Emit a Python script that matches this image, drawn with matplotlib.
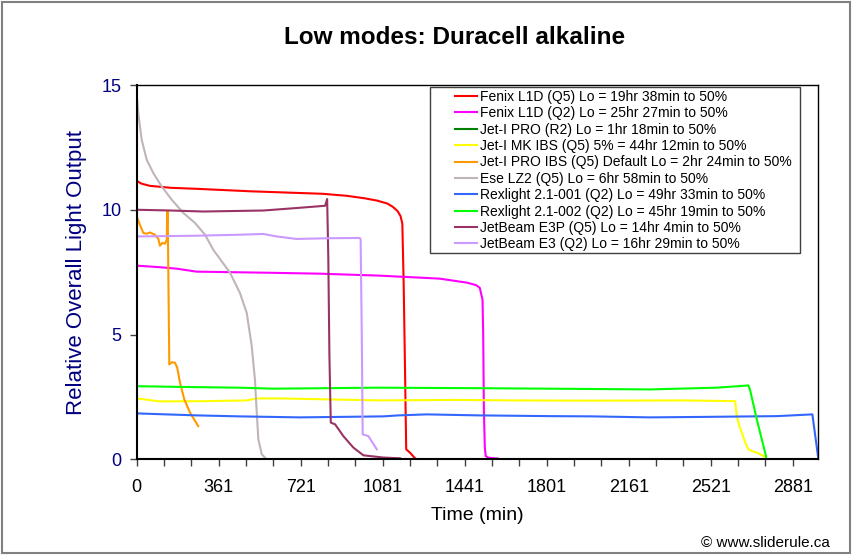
import matplotlib
matplotlib.use("Agg")
import matplotlib.pyplot as plt
from matplotlib.patches import Rectangle
from matplotlib.ticker import MultipleLocator, FixedLocator, FixedFormatter

plt.rcParams['font.family'] = ['Liberation Sans', 'DejaVu Sans']

title = "Low modes: Duracell alkaline"
xlabel = "Time (min)"
ylabel = "Relative Overall Light Output"
credit = "\u00a9 www.sliderule.ca"

labels = [
    "Fenix L1D (Q5) Lo = 19hr 38min to 50%",
    "Fenix L1D (Q2) Lo = 25hr 27min to 50%",
    "Jet-I PRO (R2) Lo = 1hr 18min to 50%",
    "Jet-I MK IBS (Q5) 5% = 44hr 12min to 50%",
    "Jet-I PRO IBS (Q5) Default Lo = 2hr 24min to 50%",
    "Ese LZ2 (Q5) Lo = 6hr 58min to 50%",
    "Rexlight 2.1-001 (Q2) Lo = 49hr 33min to 50%",
    "Rexlight 2.1-002 (Q2) Lo = 45hr 19min to 50%",
    "JetBeam E3P (Q5) Lo = 14hr 4min to 50%",
    "JetBeam E3 (Q2) Lo = 16hr 29min to 50%",
]
colors = ["#ff0000", "#ff00ff", "#008000", "#ffff00", "#ff9900",
          "#c0b4bc", "#3366ff", "#00ff00", "#993366", "#cc99ff"]

fenix_q5_x = [0, 20, 57, 150, 263, 500, 817, 922, 1000, 1054, 1100, 1124, 1145, 1158, 1166, 1172, 1178, 1183, 1199, 1221]
fenix_q5_y = [11.16, 11.05, 10.96, 10.88, 10.84, 10.74, 10.64, 10.56, 10.46, 10.37, 10.25, 10.12, 9.95, 9.75, 9.45, 7.0, 3.5, 0.4, 0.27, 0.05]

fenix_q2_x = [0, 100, 175, 263, 553, 800, 1067, 1155, 1330, 1449, 1490, 1506, 1518, 1521, 1524, 1528, 1532, 1545, 1586]
fenix_q2_y = [7.76, 7.7, 7.64, 7.52, 7.48, 7.44, 7.36, 7.32, 7.24, 7.08, 6.98, 6.87, 6.4, 5.0, 2.0, 0.5, 0.13, 0.06, 0.03]

jeti_pro_r2_x = []
jeti_pro_r2_y = []

jeti_mk_x = [0, 50, 101, 300, 483, 527, 628, 847, 1067, 1400, 1646, 2000, 2400, 2627, 2634, 2645, 2656, 2670, 2685, 2700, 2722, 2758]
jeti_mk_y = [2.44, 2.38, 2.32, 2.33, 2.36, 2.44, 2.44, 2.4, 2.36, 2.38, 2.36, 2.35, 2.36, 2.33, 1.73, 1.35, 1.07, 0.7, 0.4, 0.33, 0.27, 0.1]

jeti_ibs_x = [0, 14, 29, 44, 58, 80, 95, 102, 112, 124, 132, 134, 136, 139, 142, 143, 154, 168, 178, 190, 209, 234, 270]
jeti_ibs_y = [9.73, 9.4, 9.07, 9.04, 9.09, 9.0, 8.83, 8.56, 8.67, 8.64, 8.8, 9.87, 9.95, 7.33, 4.8, 3.8, 3.89, 3.87, 3.67, 3.07, 2.4, 1.87, 1.33]

ese_x = [0, 7, 22, 44, 73, 110, 154, 205, 256, 300, 336, 410, 453, 483, 505, 519, 527, 534, 549, 563]
ese_y = [14.6, 13.87, 12.8, 12.0, 11.47, 10.93, 10.4, 9.87, 9.47, 9.0, 8.4, 7.47, 6.67, 5.87, 4.53, 3.2, 1.87, 0.8, 0.2, 0.07]

rex001_x = [0, 130, 263, 452, 717, 1083, 1150, 1273, 1500, 1814, 2000, 2253, 2500, 2810, 2966, 2992]
rex001_y = [1.84, 1.8, 1.76, 1.72, 1.68, 1.72, 1.76, 1.8, 1.76, 1.73, 1.72, 1.68, 1.7, 1.73, 1.8, 0.03]

rex002_x = [0, 200, 453, 598, 1054, 1500, 1814, 2253, 2546, 2685, 2692, 2722, 2744, 2763]
rex002_y = [2.93, 2.9, 2.87, 2.83, 2.87, 2.85, 2.83, 2.8, 2.87, 2.96, 2.8, 1.6, 0.8, 0.1]

e3p_x = [0, 150, 292, 556, 702, 827, 836, 841, 846, 852, 871, 907, 951, 995, 1083, 1156]
e3p_y = [10.0, 9.97, 9.93, 9.97, 10.07, 10.16, 10.43, 8.13, 4.13, 1.47, 1.4, 0.93, 0.47, 0.16, 0.07, 0.04]

e3_x = [0, 263, 450, 556, 615, 702, 850, 980, 983, 988, 992, 1017, 1054]
e3_y = [8.93, 8.96, 9.0, 9.03, 8.93, 8.83, 8.86, 8.87, 8.8, 5.0, 1.0, 0.93, 0.4]

series = [
    (fenix_q5_x, fenix_q5_y),
    (fenix_q2_x, fenix_q2_y),
    (jeti_pro_r2_x, jeti_pro_r2_y),
    (jeti_mk_x, jeti_mk_y),
    (jeti_ibs_x, jeti_ibs_y),
    (ese_x, ese_y),
    (rex001_x, rex001_y),
    (rex002_x, rex002_y),
    (e3p_x, e3p_y),
    (e3_x, e3_y),
]

xtick_pos = [0, 360, 720, 1080, 1440, 1800, 2160, 2520, 2880]
xtick_labels = ["0", "361", "721", "1081", "1441", "1801", "2161", "2521", "2881"]
ytick_pos = [0, 5, 10, 15]

W, H = 855, 560
fig = plt.figure(figsize=(W / 100, H / 100), dpi=100)
L, R, T, B = 136.7, 818.3, 85, 459.3
ax = fig.add_axes([L / W, 1 - B / H, (R - L) / W, (B - T) / H])

navy = "#000080"
for (xs, ys), c, lab in zip(series, colors, labels):
    ax.plot(xs, ys, color=c, lw=1.5, label=lab, solid_joinstyle='round')

ax.set_xlim(0, 2992)
ax.set_ylim(0, 15)
ax.xaxis.set_major_locator(FixedLocator(xtick_pos))
ax.xaxis.set_major_formatter(FixedFormatter(xtick_labels))
ax.xaxis.set_minor_locator(MultipleLocator(120))
ax.set_yticks(ytick_pos)
ax.tick_params(axis='x', which='both', direction='out', length=5, width=1, color='#404040',
               labelsize=13, pad=9, labelcolor='black')
ax.tick_params(axis='y', which='both', direction='out', length=5, width=1, color='#404040',
               labelsize=13, pad=6, labelcolor=navy)
for s in ax.spines.values():
    s.set_color('black')
    s.set_linewidth(1.0)
ax.spines['left'].set_linewidth(1.5)
ax.spines['bottom'].set_linewidth(1.5)

ax.set_xlabel(xlabel, fontsize=14, color='black', labelpad=8)
ax.set_ylabel(ylabel, fontsize=16, color=navy, labelpad=10)

fig.text(455 / W, 1 - 38 / H, title, fontsize=17.5, fontweight='bold', ha='center', va='center')
fig.text(830 / W, 1 - 543 / H, credit, fontsize=11, ha='right', va='center')

# legend box
fig.patches.append(Rectangle((430 / W, 1 - 253 / H), (800 - 430) / W, (253 - 87) / H,
                             transform=fig.transFigure, facecolor='white', edgecolor='#404040',
                             lw=1.0, zorder=5))
leg = fig.legend(loc='upper left', bbox_to_anchor=(455 / W, 1 - 90 / H), bbox_transform=fig.transFigure,
                 frameon=False, fontsize=10, handlelength=1.6, handletextpad=0.2,
                 labelspacing=0.17, borderpad=0.0, borderaxespad=0.0)
leg.set_zorder(6)

# figure border
fig.patches.append(Rectangle((1.5 / W, 1 - 553 / H), (850 - 1.5) / W, (553 - 1.5) / H,
                             transform=fig.transFigure, facecolor='none', edgecolor='#808080',
                             lw=1.5, zorder=10))

fig.savefig("out.png", dpi=100)
